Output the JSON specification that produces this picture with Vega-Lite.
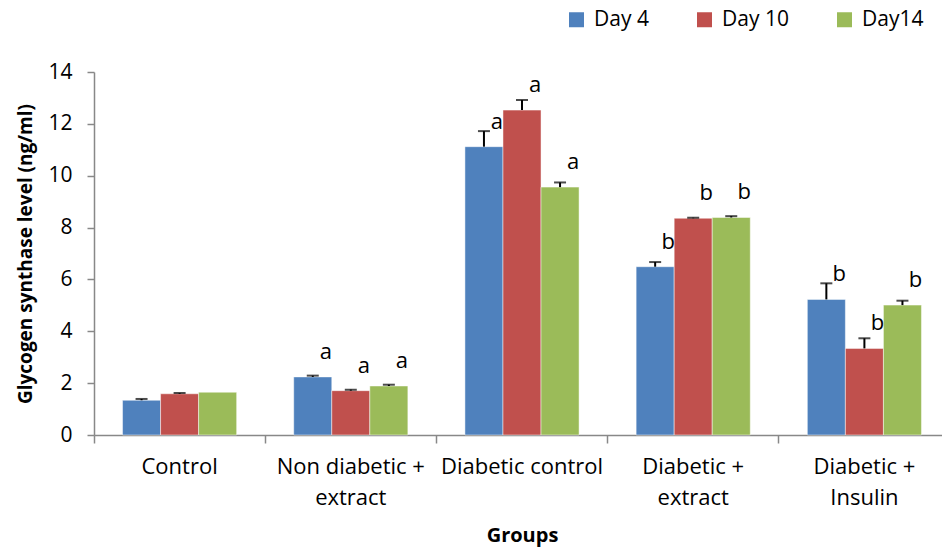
{
  "$schema": "https://vega.github.io/schema/vega-lite/v6.json",
  "autosize": {"type": "none"},
  "width": 848,
  "height": 363,
  "padding": {"left": 94, "top": 72, "right": 0, "bottom": 113},
  "background": "white",
  "config": {
    "view": {"stroke": null},
    "font": "Open Sans",
    "axis": {"grid": false, "domainColor": "#888888", "tickColor": "#888888", "labelColor": "#000000", "titleColor": "#000000", "labelFont": "Open Sans", "titleFont": "Open Sans"}
  },
  "data": {
    "values": [
      {"group": "Control", "day": "Day 4", "value": 1.34, "hi": 1.39, "label": ""},
      {"group": "Control", "day": "Day 10", "value": 1.59, "hi": 1.62, "label": ""},
      {"group": "Control", "day": "Day14", "value": 1.65, "hi": null, "label": ""},
      {"group": "Non diabetic + extract", "day": "Day 4", "value": 2.24, "hi": 2.29, "label": "a"},
      {"group": "Non diabetic + extract", "day": "Day 10", "value": 1.71, "hi": 1.75, "label": "a"},
      {"group": "Non diabetic + extract", "day": "Day14", "value": 1.89, "hi": 1.94, "label": "a"},
      {"group": "Diabetic control", "day": "Day 4", "value": 11.12, "hi": 11.72, "label": "a"},
      {"group": "Diabetic control", "day": "Day 10", "value": 12.53, "hi": 12.92, "label": "a"},
      {"group": "Diabetic control", "day": "Day14", "value": 9.56, "hi": 9.74, "label": "a"},
      {"group": "Diabetic + extract", "day": "Day 4", "value": 6.49, "hi": 6.67, "label": "b"},
      {"group": "Diabetic + extract", "day": "Day 10", "value": 8.36, "hi": 8.38, "label": "b"},
      {"group": "Diabetic + extract", "day": "Day14", "value": 8.39, "hi": 8.44, "label": "b"},
      {"group": "Diabetic + Insulin", "day": "Day 4", "value": 5.23, "hi": 5.85, "label": "b"},
      {"group": "Diabetic + Insulin", "day": "Day 10", "value": 3.34, "hi": 3.73, "label": "b"},
      {"group": "Diabetic + Insulin", "day": "Day14", "value": 5.01, "hi": 5.18, "label": "b"}
    ]
  },
  "encoding": {
    "x": {
      "field": "group", "type": "nominal", "sort": null,
      "scale": {"range": [0, 856], "paddingInner": 0, "paddingOuter": 0},
      "axis": {
        "title": "Groups", "titleFontSize": 20, "titleFontWeight": "bold", "titlePadding": 17,
        "labelAngle": 0, "labelFontSize": 22, "labelPadding": 13, "labelLineHeight": 31,
        "labelExpr": "split(replace(datum.value, '+ ', '+|'), '|')",
        "bandPosition": 0, "tickSize": 8, "domainWidth": 1.5, "tickWidth": 1.5
      }
    },
    "xOffset": {"field": "day", "type": "nominal", "sort": ["Day 4", "Day 10", "Day14"], "scale": {"paddingInner": 0, "paddingOuter": 0.75}}
  },
  "layer": [
    {
      "mark": {"type": "bar", "stroke": "#ffffff", "strokeWidth": 0.8, "strokeOpacity": 0.6},
      "encoding": {
        "y": {
          "field": "value", "type": "quantitative",
          "scale": {"domain": [0, 14], "nice": false},
          "axis": {
            "title": "Glycogen synthase level (ng/ml)", "titleFontSize": 19, "titleFontWeight": "bold", "titlePadding": 12,
            "values": [0, 2, 4, 6, 8, 10, 12, 14], "labelFontSize": 21, "labelPadding": 15, "tickSize": 7,
            "domainWidth": 1.5, "tickWidth": 1.5
          }
        },
        "color": {
          "field": "day", "type": "nominal",
          "scale": {"domain": ["Day 4", "Day 10", "Day14"], "range": ["#4F81BD", "#C0504D", "#9BBB59"]},
          "legend": {
            "title": null, "orient": "none", "direction": "horizontal", "legendX": 472, "legendY": -63,
            "symbolType": "square", "symbolSize": 225, "symbolStrokeWidth": 0, "labelFontSize": 21,
            "labelOffset": 7, "columnPadding": 45, "padding": 0, "labelFont": "Open Sans", "labelColor": "#000000"
          }
        }
      }
    },
    {
      "transform": [{"filter": "isValid(datum.hi)"}],
      "mark": {"type": "rule", "color": "#000000", "strokeWidth": 2},
      "encoding": {
        "y": {"field": "value", "type": "quantitative"},
        "y2": {"field": "hi"}
      }
    },
    {
      "transform": [{"filter": "isValid(datum.hi)"}],
      "mark": {"type": "tick", "color": "#000000", "orient": "horizontal", "size": 12, "thickness": 2},
      "encoding": {
        "y": {"field": "hi", "type": "quantitative"}
      }
    },
    {
      "transform": [{"filter": "datum.label != ''"}],
      "mark": {"type": "text", "dx": 13, "dy": -25, "fontSize": 22, "font": "Open Sans", "color": "#000000", "baseline": "middle", "align": "center"},
      "encoding": {
        "y": {"field": "value", "type": "quantitative"},
        "text": {"field": "label"}
      }
    }
  ]
}
